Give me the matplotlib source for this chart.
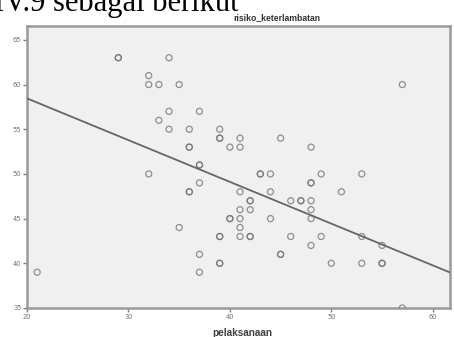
import matplotlib
matplotlib.use("Agg")
import matplotlib.pyplot as plt
import numpy as np

# data (pelaksanaan, risiko_keterlambatan)
pelaksanaan = [29, 29, 34, 32, 32, 33, 35, 57, 34, 37, 33, 34, 36, 39, 39, 39, 41, 45,
               36, 36, 40, 41, 48, 37, 37, 32, 43, 43, 44, 49, 53, 37, 48, 48, 36, 36,
               41, 44, 51, 42, 42, 46, 47, 47, 48, 41, 42, 48, 40, 40, 41, 44, 48, 35,
               41, 39, 39, 41, 42, 42, 46, 49, 53, 48, 55, 37, 45, 45, 39, 39, 50, 53,
               55, 55, 37, 21, 57]
risiko = [63, 63, 63, 61, 60, 60, 60, 60, 57, 57, 56, 55, 55, 55, 54, 54, 54, 54,
          53, 53, 53, 53, 53, 51, 51, 50, 50, 50, 50, 50, 50, 49, 49, 49, 48, 48,
          48, 48, 48, 47, 47, 47, 47, 47, 47, 46, 46, 46, 45, 45, 45, 45, 45, 44,
          44, 43, 43, 43, 43, 43, 43, 43, 43, 42, 42, 41, 41, 41, 40, 40, 40, 40,
          40, 40, 39, 39, 35]

xticks = [20, 30, 40, 50, 60]
yticks = [35, 40, 45, 50, 55, 60, 65]
title = "risiko_keterlambatan"
xlabel = "pelaksanaan"
caption = "IV.9 sebagai berikut"
# fitted line (value at x=20, slope)
fit_at_20 = 58.45
fit_slope = -0.467

W, H = 454, 337
fig = plt.figure(figsize=(W / 100, H / 100), dpi=100)
fig.patch.set_facecolor("white")

ax = fig.add_axes([27 / W, 1 - 308 / H, (450 - 27) / W, (308 - 26) / H])
ax.set_facecolor("#f0f0f0")
ax.set_xlim(20, 61.7)
ax.set_ylim(35, 66.55)

x = np.array(pelaksanaan, dtype=float)
y = np.array(risiko, dtype=float)
ax.scatter(x, y, s=19, facecolors="none", edgecolors="#6e6e6e", linewidths=0.9,
           alpha=0.75, clip_on=True, zorder=3)

xs = np.array([20, 61.7])
ax.plot(xs, fit_at_20 + fit_slope * (xs - 20), color="#666666", lw=1.3, zorder=4)

for s in ax.spines.values():
    s.set_color("#9a9a9a")
    s.set_linewidth(1.8)

ax.set_xticks(xticks)
ax.set_yticks(yticks)
ax.tick_params(axis="both", direction="out", length=3, width=1, color="#808080",
               labelsize=4.8, labelcolor="#707070", pad=1)

fig.text(277 / W, 1 - 18 / H, title, ha="center", va="center", fontsize=6.2,
         fontweight="bold", color="#303030", family="Liberation Sans")
fig.text(242 / W, 1 - 333 / H, xlabel, ha="center", va="center", fontsize=7.2,
         fontweight="bold", color="#404040", family="Liberation Sans")
fig.text(-6 / W, 1 - 11 / H, caption, ha="left", va="baseline", fontsize=22,
         color="black", family="Liberation Serif")

fig.savefig("out.png", dpi=100)
